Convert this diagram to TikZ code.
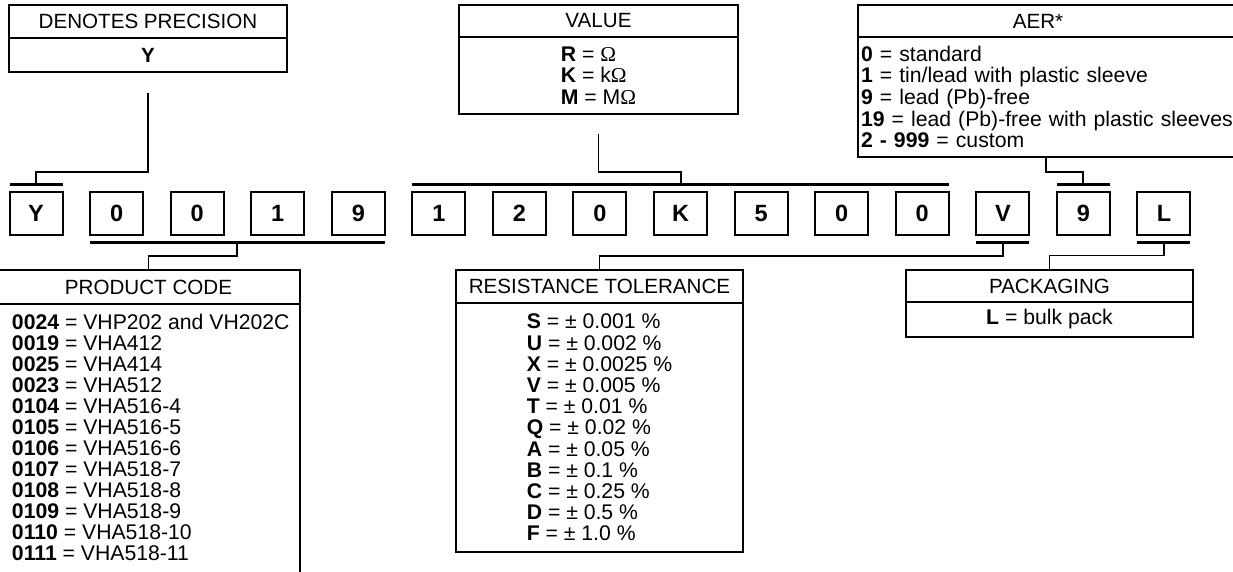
\documentclass[tikz,border=0pt]{standalone}
\usepackage{fontspec}
\setmainfont{Liberation Sans}
\newfontfamily\omegafont{Liberation Serif}
\usetikzlibrary{calc}
\newcommand{\ohmsym}{{\omegafont Ω}}

\begin{document}
\begin{tikzpicture}[x=1pt,y=-1pt,
    every node/.style={inner sep=0pt,outer sep=0pt,font=\fontsize{21.2}{21.2}\selectfont},
    hdbox/.style={draw,line width=2pt,font=\fontsize{20.6}{21}\selectfont},
    bdbox/.style={draw,line width=2pt,align=left},
    digitbox/.style={draw,line width=2pt,minimum width=53pt,minimum height=43pt,
      font=\fontsize{23.5}{23.5}\selectfont\bfseries},
    codebar/.style={line width=3.8pt},
    link/.style={line width=1.9pt}]

    \useasboundingbox (0,0) rectangle (1233,572);
    \clip (0,0) rectangle (1233,572);

    \node[hdbox,minimum width=278pt,minimum height=33pt] (dpH) at (148,21.5) {DENOTES PRECISION};
    \node[bdbox,minimum width=278pt,minimum height=34pt,font=\fontsize{20.6}{21}\selectfont\bfseries]
      (dpB) at (148,55) {Y};

    \node[hdbox,minimum width=279pt,minimum height=32pt] (valH) at (598.5,21) {VALUE};
    \node[bdbox,minimum width=279pt,minimum height=77pt,font=\fontsize{21.2}{21.5}\selectfont]
      (valB) at (598.5,75.5) {\textbf{R} = \ohmsym\\ \textbf{K} = k\ohmsym\\ \textbf{M} = M\ohmsym};

    \node[hdbox,minimum width=390pt,minimum height=32pt,anchor=north west] (aerH) at (858,5) {};
    \node[font=\fontsize{20.6}{21}\selectfont] (aerT) at (1038,21) {AER*};
    \node[bdbox,minimum width=390pt,minimum height=120pt,text width=384pt,anchor=north west,
      font=\fontsize{21.2}{21.7}\selectfont] (aerB) at (858,37)
    {
      \textbf{0} = standard\\
      \textbf{1} = tin/lead with plastic sleeve\\
      \textbf{9} = lead (Pb)-free\\
      \textbf{19} = lead (Pb)-free with plastic sleeves\\
      \textbf{2 - 999} = custom
    };

    \node[digitbox] (d0) at (36,213.5) {Y};
    \node[digitbox] (d1) at ($(d0)+(80.57,0)$) {0};
    \node[digitbox] (d2) at ($(d1)+(80.57,0)$) {0};
    \node[digitbox] (d3) at ($(d2)+(80.57,0)$) {1};
    \node[digitbox] (d4) at ($(d3)+(80.57,0)$) {9};
    \node[digitbox] (d5) at ($(d4)+(80.57,0)$) {1};
    \node[digitbox] (d6) at ($(d5)+(80.57,0)$) {2};
    \node[digitbox] (d7) at ($(d6)+(80.57,0)$) {0};
    \node[digitbox] (d8) at ($(d7)+(80.57,0)$) {K};
    \node[digitbox] (d9) at ($(d8)+(80.57,0)$) {5};
    \node[digitbox] (d10) at ($(d9)+(80.57,0)$) {0};
    \node[digitbox] (d11) at ($(d10)+(80.57,0)$) {0};
    \node[digitbox] (d12) at ($(d11)+(80.57,0)$) {V};
    \node[digitbox] (d13) at ($(d12)+(80.57,0)$) {9};
    \node[digitbox] (d14) at ($(d13)+(80.57,0)$) {L};

    \draw[codebar] ($(d0.north west)+(0,-7.5)$) -- ($(d0.north east)+(0,-7.5)$);
    \draw[codebar] ($(d5.north west)+(0,-7.5)$) -- ($(d11.north east)+(0,-7.5)$);
    \draw[codebar] ($(d13.north west)+(0,-7.5)$) -- ($(d13.north east)+(0,-7.5)$);
    \draw[codebar] ($(d1.south west)+(0,7.5)$) -- ($(d4.south east)+(0,7.5)$);
    \draw[codebar] ($(d12.south west)+(0,7.5)$) -- ($(d12.south east)+(0,7.5)$);
    \draw[codebar] ($(d14.south west)+(0,7.5)$) -- ($(d14.south east)+(0,7.5)$);

    \coordinate (tY) at ($(d0.north)+(0,-7.5)$);
    \coordinate (tV) at ($(d5.north west)!0.5!(d11.north east)+(0,-7.5)$);
    \coordinate (t9) at ($(d13.north)+(0,-7.5)$);
    \coordinate (bC) at ($(d1.south west)!0.5!(d4.south east)+(0,7.5)$);
    \coordinate (bV) at ($(d12.south)+(0,7.5)$);
    \coordinate (bL) at ($(d14.south)+(0,7.5)$);

    \node[hdbox,minimum width=303pt,minimum height=34pt] (pcH) at (148.5,287) {PRODUCT CODE};
    \node[bdbox,minimum width=303pt,minimum height=300pt,anchor=north] (pcB) at (148.5,304) {};
    \node[anchor=north west,align=left,font=\fontsize{21.2}{21}\selectfont] (pcT) at (12,314.5)
    {
      \textbf{0024} = VHP202 and VH202C\\
      \textbf{0019} = VHA412\\
      \textbf{0025} = VHA414\\
      \textbf{0023} = VHA512\\
      \textbf{0104} = VHA516-4\\
      \textbf{0105} = VHA516-5\\
      \textbf{0106} = VHA516-6\\
      \textbf{0107} = VHA518-7\\
      \textbf{0108} = VHA518-8\\
      \textbf{0109} = VHA518-9\\
      \textbf{0110} = VHA518-10\\
      \textbf{0111} = VHA518-11
    };

    \node[hdbox,minimum width=287pt,minimum height=33pt] (rtH) at (599.5,286.5) {RESISTANCE TOLERANCE};
    \node[bdbox,minimum width=287pt,minimum height=249pt] (rtB) at (599.5,427.5)
    {
      \textbf{S} = ± 0.001 \%\\
      \textbf{U} = ± 0.002 \%\\
      \textbf{X} = ± 0.0025 \%\\
      \textbf{V} = ± 0.005 \%\\
      \textbf{T} = ± 0.01 \%\\
      \textbf{Q} = ± 0.02 \%\\
      \textbf{A} = ± 0.05 \%\\
      \textbf{B} = ± 0.1 \%\\
      \textbf{C} = ± 0.25 \%\\
      \textbf{D} = ± 0.5 \%\\
      \textbf{F} = ± 1.0 \%
    };

    \node[hdbox,minimum width=287pt,minimum height=32pt] (pkH) at (1049.5,286) {PACKAGING};
    \node[bdbox,minimum width=287pt,minimum height=35pt] (pkB) at (1049.5,319.5) {\textbf{L} = bulk pack};

    \coordinate (dpend) at ($(dpB.south)+(0,21)$);
    \coordinate (valend) at ($(valB.south)+(0,20)$);
    \coordinate (aerend) at ($(aerB.south west)+(188,0)$);

    \draw[link] (dpend) |- ($(tY)+(0,-12.5)$) -- (tY);
    \draw[link] (valend) |- ($(tV)+(0,-12.5)$) -- (tV);
    \draw[link] (aerend) |- ($(t9)+(0,-12.5)$) -- (t9);
    \draw[link] (bC) -- ++(0,13.5) -| (pcH.north);
    \draw[link] (bV) -- ++(0,13.5) -| (rtH.north);
    \draw[link] (bL) -- ++(0,13) -| (pkH.north);
  \end{tikzpicture}
\end{document}
